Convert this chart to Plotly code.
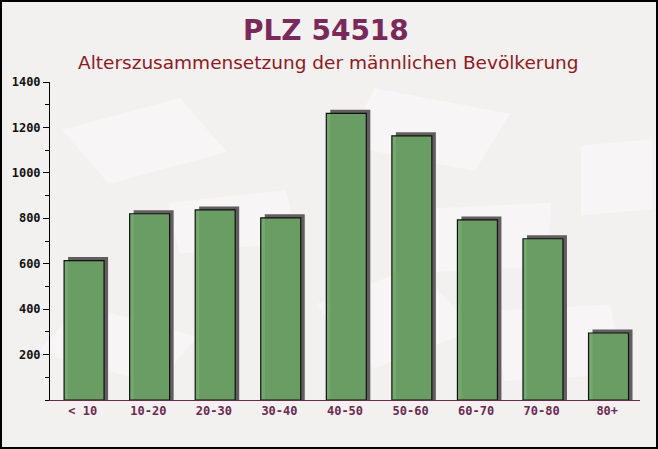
import plotly.graph_objects as go

categories = ["< 10", "10-20", "20-30", "30-40", "40-50", "50-60", "60-70", "70-80", "80+"]
values = [614, 820, 837, 802, 1262, 1163, 793, 710, 295]
y_ticks = [200, 400, 600, 800, 1000, 1200, 1400]

W, H = 658, 449
ml, mr, mt, mb = 50, 18, 82, 49
ymax = 1400
plot_h = H - mt - mb
plot_w = W - ml - mr
units_per_px = ymax / plot_h

bar_w = 0.61
shadow_dx = 4 / (plot_w / len(categories))
shadow_dy = 3.5 * units_per_px

fig = go.Figure()

# background texture (faint envelopes)
bg_polys = [
    "M 0.02 0.85 L 0.22 0.95 L 0.30 0.78 L 0.10 0.68 Z",
    "M 0.55 0.98 L 0.78 0.90 L 0.72 0.72 L 0.50 0.80 Z",
    "M 0.20 0.62 L 0.40 0.66 L 0.42 0.50 L 0.22 0.46 Z",
    "M 0.62 0.60 L 0.85 0.62 L 0.84 0.42 L 0.62 0.40 Z",
    "M 0.05 0.30 L 0.25 0.20 L 0.18 0.05 L -0.02 0.15 Z",
    "M 0.45 0.30 L 0.62 0.42 L 0.72 0.22 L 0.55 0.10 Z",
    "M 0.75 0.28 L 0.95 0.30 L 0.97 0.08 L 0.77 0.06 Z",
    "M 0.90 0.80 L 1.02 0.82 L 1.02 0.60 L 0.90 0.58 Z",
]
shapes = []
for p in bg_polys:
    shapes.append(dict(type="path", path=p, xref="paper", yref="paper",
                       fillcolor="rgba(255,255,255,0.35)", line=dict(width=0), layer="below"))

fig.add_trace(go.Bar(
    x=categories, y=[v + shadow_dy for v in values],
    width=bar_w, offset=-bar_w / 2 + shadow_dx + 0.02,
    marker=dict(color="#625e60", line=dict(width=0)),
    hoverinfo="skip", showlegend=False,
))
fig.add_trace(go.Bar(
    x=categories, y=values,
    width=bar_w, offset=-bar_w / 2 + 0.02,
    marker=dict(color="rgba(106,162,100,0.93)", line=dict(color="#111111", width=1.2)),
    showlegend=False,
))

def py(px):
    return 1 + (mt - px) / plot_h

def pxx(px):
    return (px - ml) / plot_w

fig.update_layout(
    width=W, height=H,
    margin=dict(l=ml, r=mr, t=mt, b=mb),
    paper_bgcolor="#f3f0f0",
    plot_bgcolor="rgba(0,0,0,0)",
    barmode="overlay",
    shapes=shapes + [dict(type="rect", xref="paper", yref="paper",
                          x0=pxx(1), x1=pxx(W - 1),
                          y0=py(H - 1), y1=py(1),
                          line=dict(color="#000000", width=2), fillcolor="rgba(0,0,0,0)")],
    annotations=[
        dict(text="<b>PLZ 54518</b>", x=pxx(326), y=py(30), xref="paper", yref="paper",
             xanchor="center", yanchor="middle", showarrow=False,
             font=dict(family="DejaVu Sans", size=28, color="#7a2a5a")),
        dict(text="Alterszusammensetzung der männlichen Bevölkerung", x=pxx(328), y=py(62),
             xref="paper", yref="paper", xanchor="center", yanchor="middle", showarrow=False,
             font=dict(family="DejaVu Sans", size=18.5, color="#8e1a22")),
    ],
    xaxis=dict(
        type="category", showgrid=False, zeroline=False,
        showline=True, linecolor="#6a2a50", linewidth=1,
        ticks="", tickfont=dict(family="DejaVu Sans Mono", size=12, color="#6a2a50", weight="bold"),
        range=[-0.5, len(categories) - 0.5],
    ),
    yaxis=dict(
        range=[0, ymax], tickvals=y_ticks, showgrid=False, zeroline=False,
        showline=True, linecolor="#000000", linewidth=1,
        ticks="outside", ticklen=6, tickcolor="#000000",
        minor=dict(ticks="outside", ticklen=4, dtick=100, tickcolor="#000000"),
        tickfont=dict(family="DejaVu Sans Mono", size=12, color="#111111", weight="bold"),
    ),
    font=dict(family="DejaVu Sans"),
)

fig.write_html("out.html", config={"displayModeBar": False},
               post_script="document.body.style.margin='0';document.body.style.overflow='hidden';")
